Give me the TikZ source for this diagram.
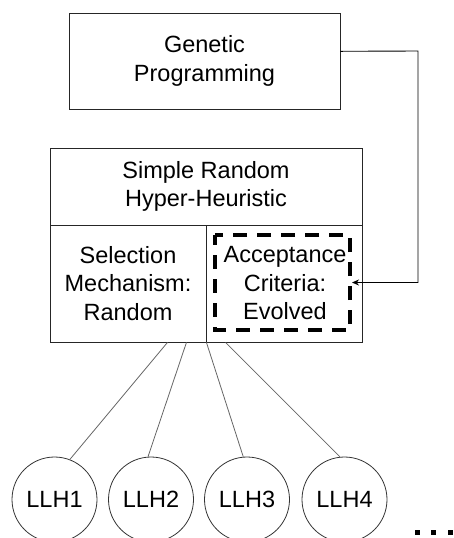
\documentclass[tikz,border=0pt]{standalone}
\usepackage{fontspec}
\setmainfont{Liberation Sans}
\usetikzlibrary{calc,arrows.meta}
\begin{document}
\begin{tikzpicture}[x=1pt,y=-1pt,
  txt/.style={font=\fontsize{23.5}{28.5}\selectfont,align=center,inner sep=0pt},
  cell/.style={draw=black!85,line width=0.9pt,txt},
  llh/.style={draw=black!80,line width=0.8pt,circle,minimum size=85pt,txt},
  link/.style={draw=black!60,line width=0.8pt},
  dashbox/.style={draw=black,line width=3.6pt,dash pattern=on 14pt off 10pt,dash phase=4pt},
  feed/.style={draw=black,line width=0.9pt,-{Stealth[length=7pt,width=6pt]}},
  dot/.style={fill=black,minimum size=5pt,inner sep=0pt}]
\useasboundingbox (0,0) rectangle (453,538);
\clip (0,0) rectangle (453,538);

% genetic programming box
\node[cell,minimum width=271pt,minimum height=96pt] (gp) at (204.5,61) {Genetic\\Programming};

% hyper-heuristic frame
\node[cell,minimum width=312pt,minimum height=77pt] (srhh) at (206,186.5) {Simple Random\\Hyper-Heuristic};
\node[cell,minimum width=156pt,minimum height=117pt] (sel) at (128,283.5) {Selection\\Mechanism:\\Random};
\node[cell,minimum width=156pt,minimum height=117pt] (accc) at (284,283.5) {};
\node[txt] (acctext) at (285,283.5) {Acceptance\\Criteria:\\Evolved};
\draw[dashbox] (215,235) rectangle (350,330);
\coordinate (acc) at (352,282.5);

% feedback from GP into the acceptance criteria
\coordinate (gpout) at ($(gp.north east)!0.4!(gp.south east)$);
\coordinate (turn) at (418,51);
\draw[feed] (gpout) -- (turn) |- (acc);

% low level heuristics
\node[llh] (l1) at (54.5,499.5) {LLH1};
\node[llh] (l2) at (151,499.5) {LLH2};
\node[llh] (l3) at (247,499.5) {LLH3};
\node[llh] (l4) at (344.5,499.5) {LLH4};

\draw[link] ($(sel.south east)+(-39,0)$) -- (l1.69.5);
\draw[link] ($(sel.south east)+(-20,0)$) -- (l2.94);
\draw[link] (sel.south east) -- (l3.95.5);
\draw[link] ($(accc.south west)+(20,0)$) -- (l4.96);

% ellipsis
\node[dot] (d1) at (417,532) {};
\node[dot] (d2) at (433.5,532) {};
\node[dot] (d3) at (450,532) {};
\end{tikzpicture}
\end{document}
